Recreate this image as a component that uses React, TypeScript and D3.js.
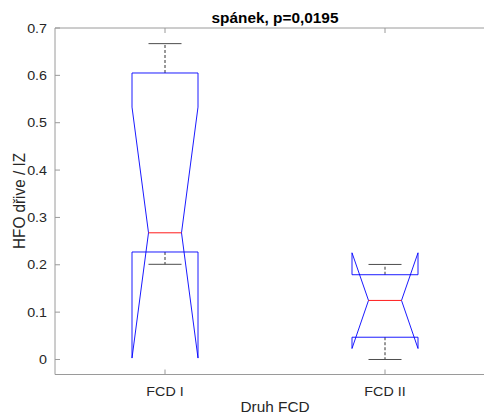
import React from "react";
import * as d3 from "d3";

const categories = ["FCD I", "FCD II"];
const whiskerLow = [0.201, 0.0];
const q1 = [0.227, 0.047];
const median = [0.2675, 0.1247];
const q3 = [0.605, 0.179];
const whiskerHigh = [0.667, 0.2007];
const notchLow = [0.003, 0.0232];
const notchHigh = [0.533, 0.2253];
const yTicks = [0, 0.1, 0.2, 0.3, 0.4, 0.5, 0.6, 0.7];

const W = 484;
const H = 414;
const left = 55;
const right = 495;
const top = 28;
const bottom = 374.5;

export default function App() {
  const x = d3.scaleLinear().domain([0.5, 2.5]).range([left, right]);
  const y = d3.scaleLinear().domain([-0.0317, 0.7]).range([bottom, top]);
  const boxHalf = 0.15;
  const notchHalf = 0.075;
  const font = "'Liberation Sans', Arial, Helvetica, sans-serif";
  const axisColor = "#9a9a9a";
  const textColor = "#262626";
  const line = d3.line<[number, number]>().x((d) => d[0]).y((d) => d[1]);

  return (
    <svg
      width={W}
      height={H}
      style={{ position: "absolute", left: 0, top: 0, background: "#fff" }}
      fontFamily={font}
    >
      <rect x={0} y={0} width={W} height={H} fill="#fff" />
      {/* axes box */}
      <line x1={left} x2={right} y1={top} y2={top} stroke={axisColor} strokeWidth={1} />
      <line x1={left} x2={right} y1={bottom} y2={bottom} stroke={axisColor} strokeWidth={1} />
      <line x1={left} x2={left} y1={top} y2={bottom} stroke={axisColor} strokeWidth={1} />
      <line x1={right} x2={right} y1={top} y2={bottom} stroke={axisColor} strokeWidth={1} />
      {/* y ticks */}
      {yTicks.map((t) => (
        <g key={"y" + t}>
          <line x1={left} x2={left + 5} y1={y(t)} y2={y(t)} stroke={axisColor} />
          <line x1={right} x2={right - 5} y1={y(t)} y2={y(t)} stroke={axisColor} />
          <text
            transform={`translate(${left - 8}, ${y(t)}) scale(1.1, 1)`}
            dy="0.35em"
            textAnchor="end"
            fontSize={13}
            fill={textColor}
          >
            {String(t)}
          </text>
        </g>
      ))}
      {/* x ticks */}
      {categories.map((c, i) => (
        <g key={"x" + c}>
          <line x1={x(i + 1)} x2={x(i + 1)} y1={bottom} y2={bottom - 5} stroke={axisColor} />
          <line x1={x(i + 1)} x2={x(i + 1)} y1={top} y2={top + 5} stroke={axisColor} />
          <text
            transform={`translate(${x(i + 1)}, 395.5) scale(1.1, 1)`}
            textAnchor="middle"
            fontSize={13}
            fill={textColor}
          >
            {c}
          </text>
        </g>
      ))}
      {/* boxes */}
      {categories.map((c, i) => {
        const cx = i + 1;
        const pts: [number, number][] = [
          [x(cx - boxHalf), y(q1[i])],
          [x(cx - boxHalf), y(notchLow[i])],
          [x(cx - notchHalf), y(median[i])],
          [x(cx - boxHalf), y(notchHigh[i])],
          [x(cx - boxHalf), y(q3[i])],
          [x(cx + boxHalf), y(q3[i])],
          [x(cx + boxHalf), y(notchHigh[i])],
          [x(cx + notchHalf), y(median[i])],
          [x(cx + boxHalf), y(notchLow[i])],
          [x(cx + boxHalf), y(q1[i])],
          [x(cx - boxHalf), y(q1[i])],
        ];
        return (
          <g key={"b" + c}>
            <line
              x1={x(cx)}
              x2={x(cx)}
              y1={y(q3[i])}
              y2={y(whiskerHigh[i])}
              stroke="#333"
              strokeWidth={1}
              strokeDasharray="3,2"
            />
            <line
              x1={x(cx)}
              x2={x(cx)}
              y1={y(q1[i])}
              y2={y(whiskerLow[i])}
              stroke="#333"
              strokeWidth={1}
              strokeDasharray="3,2"
            />
            <line
              x1={x(cx - notchHalf)}
              x2={x(cx + notchHalf)}
              y1={y(whiskerHigh[i])}
              y2={y(whiskerHigh[i])}
              stroke="#4d4d4d"
              strokeWidth={1}
            />
            <line
              x1={x(cx - notchHalf)}
              x2={x(cx + notchHalf)}
              y1={y(whiskerLow[i])}
              y2={y(whiskerLow[i])}
              stroke="#4d4d4d"
              strokeWidth={1}
            />
            <path d={line(pts) || ""} fill="none" stroke="#0000ff" strokeWidth={0.9} />
            <line
              x1={x(cx - notchHalf)}
              x2={x(cx + notchHalf)}
              y1={y(median[i])}
              y2={y(median[i])}
              stroke="#ff0000"
              strokeWidth={0.9}
            />
          </g>
        );
      })}
      {/* labels */}
      <text
        transform={`translate(${(left + right) / 2}, 412) scale(1.06, 1)`}
        textAnchor="middle"
        fontSize={14.5}
        fill={textColor}
      >
        Druh FCD
      </text>
      <text
        transform={`translate(25, 201) rotate(-90) scale(1, 1.08)`}
        textAnchor="middle"
        fontSize={15.3}
        fill={textColor}
      >
        HFO dřive / IZ
      </text>
      <text
        transform={`translate(${(left + right) / 2}, 22.5) scale(1.06, 1)`}
        textAnchor="middle"
        fontSize={14.5}
        fontWeight="bold"
        fill="#000"
      >
        spánek, p=0,0195
      </text>
    </svg>
  );
}
